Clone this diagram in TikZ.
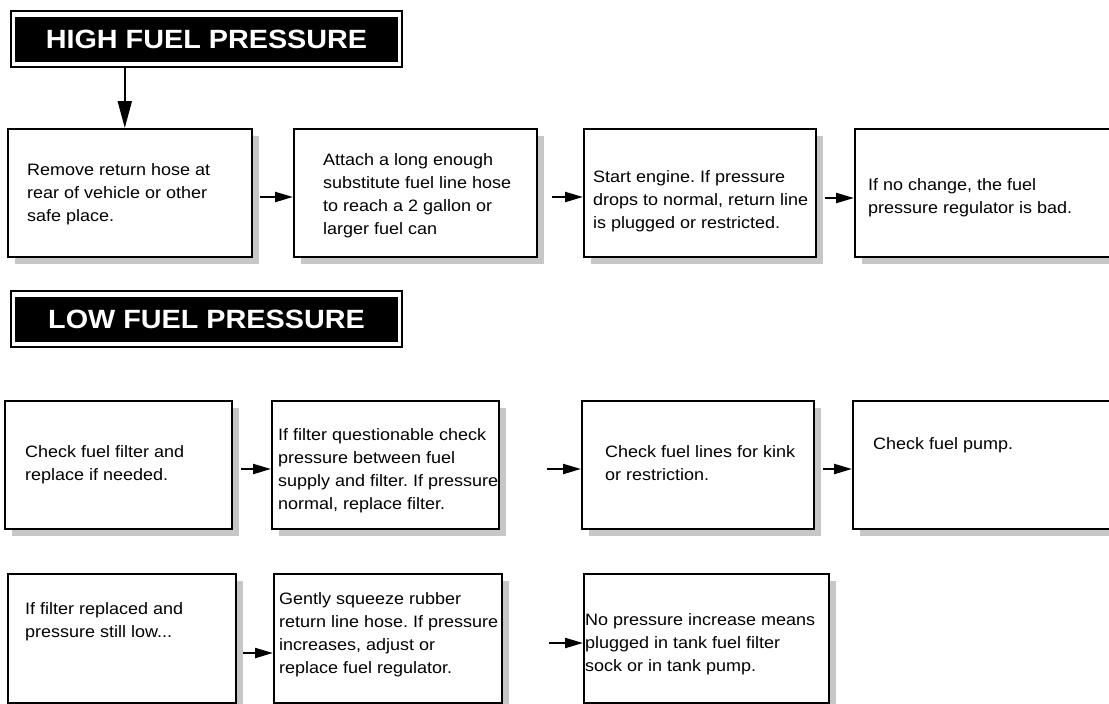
\documentclass[tikz,border=0pt]{standalone}
\usepackage{fontspec}
\setmainfont{Liberation Sans}[FakeStretch=1.09]
\usetikzlibrary{arrows.meta,shadows}
\frenchspacing
\tikzset{
  stepbox/.style={draw, line width=2.3pt, fill=white, inner sep=0pt,
    drop shadow={shadow xshift=7pt, shadow yshift=-7pt, fill=black!22, opacity=1}},
  steptext/.style={anchor=north west, inner sep=0pt, align=left,
    font=\fontsize{16.5}{23}\selectfont},
  titlebox/.style={fill=black, text=white, inner sep=0pt, minimum width=383pt,
    minimum height=45pt, font=\fontsize{26.4}{30}\selectfont\bfseries},
  frameline/.style={line width=2pt},
  arr/.style={line width=2.2pt, -{Triangle[length=18pt,width=10pt]}},
  bigarr/.style={line width=2pt, -{Triangle[length=27pt,width=14pt]}}
}
\begin{document}
\begin{tikzpicture}[x=1pt,y=-1pt]
\useasboundingbox (0,0) rectangle (1109,704);
\clip (0,0) rectangle (1109,704);
\fill[white] (0,0) rectangle (1109,704);

% titles
\node[titlebox] (high) at (206.5,39.2) {HIGH FUEL PRESSURE};
\draw[frameline] ([xshift=-4pt,yshift=5.5pt]high.north west) rectangle ([xshift=4pt,yshift=-5.5pt]high.south east);
\node[titlebox] (low) at (206.5,319.2) {LOW FUEL PRESSURE};
\draw[frameline] ([xshift=-4pt,yshift=5.5pt]low.north west) rectangle ([xshift=4pt,yshift=-5.5pt]low.south east);

% row 1
\node[stepbox, minimum width=243.7pt, minimum height=127.7pt] (b1) at (130,193) {};
\node[stepbox, minimum width=242.7pt, minimum height=127.7pt] (b2) at (415.5,193) {};
\node[stepbox, minimum width=231.7pt, minimum height=127.7pt] (b3) at (700,193) {};
\node[stepbox, minimum width=268.7pt, minimum height=127.7pt] (b4) at (989.5,193) {};

\node[steptext] (t1) at (27,163) {Remove return hose at\\rear of vehicle or other\\safe place.};
\node[steptext] (t2) at (323,153) {Attach a long enough\\substitute fuel line hose\\to reach a 2 gallon or\\larger fuel can};
\node[steptext] (t3) at (593,170) {Start engine. If pressure\\drops to normal, return line\\is plugged or restricted.};
\node[steptext] (t4) at (868,178) {If no change, the fuel\\pressure regulator is bad.};

% row 2
\node[stepbox, minimum width=226.7pt, minimum height=127.7pt] (b5) at (118.5,465) {};
\node[stepbox, minimum width=226.7pt, minimum height=127.7pt] (b6) at (385.5,465) {};
\node[stepbox, minimum width=231.7pt, minimum height=127.7pt] (b7) at (698,465) {};
\node[stepbox, minimum width=270.7pt, minimum height=127.7pt] (b8) at (988.5,465) {};

\node[steptext] (t5) at (25,445) {Check fuel filter and\\replace if needed.};
\node[steptext] (t6) at (278,428) {If filter questionable check\\pressure between fuel\\supply and filter. If pressure\\normal, replace filter.};
\node[steptext] (t7) at (605,445) {Check fuel lines for kink\\or restriction.};
\node[steptext] (t8) at (873,437) {Check fuel pump.};

% row 3
\node[stepbox, minimum width=227.7pt, minimum height=128.7pt] (b9) at (122,638.5) {};
\node[stepbox, minimum width=227.7pt, minimum height=128.7pt] (b10) at (388,638.5) {};
\node[stepbox, minimum width=244.7pt, minimum height=128.7pt] (b11) at (706.5,638.5) {};

\node[steptext] (t9) at (25,602) {If filter replaced and\\pressure still low...};
\node[steptext] (t10) at (279,592) {Gently squeeze rubber\\return line hose. If pressure\\increases, adjust or\\replace fuel regulator.};
\node[steptext] (t11) at (585,613) {No pressure increase means\\plugged in tank fuel filter\\sock or in tank pump.};

% connectors
\draw[bigarr] ([xshift=110pt,yshift=-5.5pt]high.south west) -- ([xshift=110pt]high.south west |- b1.north);
\draw[arr] ([xshift=7pt,yshift=-4pt]b1.east) -- ([yshift=-4pt]b2.west);
\draw[arr] ([xshift=14pt,yshift=-4pt]b2.east) -- ([yshift=-4pt]b3.west);
\draw[arr] ([xshift=8pt,yshift=-5pt]b3.east) -- ([yshift=-5pt]b4.west);

\draw[arr] ([xshift=8pt,yshift=-4pt]b5.east) -- ([yshift=-4pt]b6.west);
\draw[arr] ([xshift=-34pt,yshift=-4pt]b7.west) -- ([yshift=-4pt]b7.west);
\draw[arr] ([xshift=8pt,yshift=-4pt]b7.east) -- ([yshift=-4pt]b8.west);

\draw[arr] ([xshift=6pt,yshift=-14.5pt]b9.east) -- ([yshift=-14.5pt]b10.west);
\draw[arr] ([xshift=-34pt,yshift=-4.5pt]b11.west) -- ([yshift=-4.5pt]b11.west);
\end{tikzpicture}
\end{document}
